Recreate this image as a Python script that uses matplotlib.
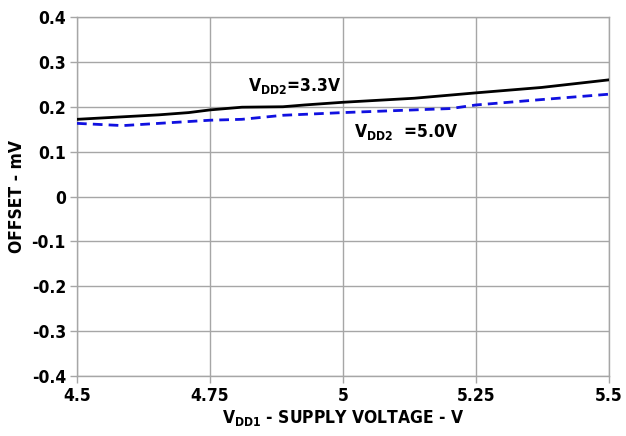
import matplotlib
matplotlib.use("Agg")
import matplotlib.pyplot as plt

plt.rcParams["font.family"] = ["DejaVu Sans"]
plt.rcParams["font.stretch"] = "condensed"
plt.rcParams["font.weight"] = "bold"
plt.rcParams["mathtext.default"] = "regular"

# V_DD2 = 3.3 V (solid black)
x33 = [4.5, 4.654, 4.71, 4.75, 4.81, 4.887, 4.928, 5.0, 5.134, 5.25, 5.373, 5.5]
y33 = [0.172, 0.182, 0.187, 0.193, 0.199, 0.200, 0.204, 0.210, 0.219, 0.231, 0.243, 0.260]

# V_DD2 = 5.0 V (dashed blue)
x50 = [4.5, 4.586, 4.654, 4.75, 4.81, 4.887, 5.0, 5.134, 5.202, 5.25, 5.373, 5.5]
y50 = [0.163, 0.158, 0.163, 0.170, 0.172, 0.181, 0.187, 0.193, 0.196, 0.204, 0.216, 0.228]

xticks = [4.5, 4.75, 5.0, 5.25, 5.5]
xtick_labels = ["4.5", "4.75", "5", "5.25", "5.5"]
yticks = [-0.4, -0.3, -0.2, -0.1, 0, 0.1, 0.2, 0.3, 0.4]
ytick_labels = ["-0.4", "-0.3", "-0.2", "-0.1", "0", "0.1", "0.2", "0.3", "0.4"]

GRID = "#a6a6a6"

fig = plt.figure(figsize=(6.26, 4.36), dpi=100)
ax = fig.add_axes([0.123, 0.1376, 0.850, 0.8234])

ax.plot(x33, y33, color="black", linewidth=2.0, zorder=3)
ax.plot(x50, y50, color="#1010e0", linewidth=2.0, linestyle=(0, (3.5, 2.2)), zorder=3)

ax.set_xlim(4.5, 5.5)
ax.set_ylim(-0.4, 0.4)
ax.set_xticks(xticks)
ax.set_xticklabels(xtick_labels, fontsize=12.5, fontweight="bold")
ax.set_yticks(yticks)
ax.set_yticklabels(ytick_labels, fontsize=12.5, fontweight="bold")
ax.tick_params(axis="both", color=GRID, length=5, width=1, pad=3)
ax.grid(True, color=GRID, linewidth=1)
for s in ax.spines.values():
    s.set_color(GRID)
    s.set_linewidth(1)

ax.set_xlabel("V$_{DD1}$ - SUPPLY VOLTAGE - V", fontsize=12.5, fontweight="bold", labelpad=2)
ax.set_ylabel("OFFSET - mV", fontsize=12.5, fontweight="bold", labelpad=4)

ax.text(4.822, 0.247, "V$_{DD2}$=3.3V", fontsize=12.5, fontweight="bold", va="center")
ax.text(5.02, 0.143, "V$_{DD2}$  =5.0V", fontsize=12.5, fontweight="bold", va="center")

fig.savefig("out.png", dpi=100)
